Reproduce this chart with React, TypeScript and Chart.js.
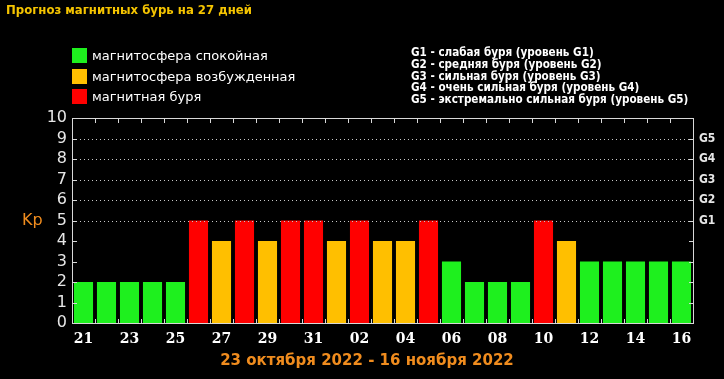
import React, { useEffect, useRef } from 'react';
import { Chart, registerables } from 'chart.js';

Chart.register(...registerables);

const days = ['21','22','23','24','25','26','27','28','29','30','31','01','02','03','04','05','06','07','08','09','10','11','12','13','14','15','16'];
const kpValues = [2,2,2,2,2,5,4,5,4,5,5,4,5,4,4,5,3,2,2,2,5,4,3,3,3,3,3];
const gLabels = ['G1','G2','G3','G4','G5'];
const legendLabels = ['магнитосфера спокойная','магнитосфера возбужденная','магнитная буря'];
const legendColors = ['#1ef01e','#ffbf00','#ff0000'];
const gDescriptions = [
  'G1 - слабая буря (уровень G1)',
  'G2 - средняя буря (уровень G2)',
  'G3 - сильная буря (уровень G3)',
  'G4 - очень сильная буря (уровень G4)',
  'G5 - экстремально сильная буря (уровень G5)',
];
const titleText = 'Прогноз магнитных бурь на 27 дней';
const dateRange = '23 октября 2022 - 16 ноября 2022';
const axisLabel = 'Kp';

const colorFor = (v: number) => (v >= 5 ? legendColors[2] : v === 4 ? legendColors[1] : legendColors[0]);

const framePlugin = {
  id: 'frame',
  afterDatasetsDraw(chart: any) {
    const { ctx, chartArea: a, scales } = chart;
    const y = scales.y;
    const x = scales.x;
    ctx.save();
    ctx.strokeStyle = '#c8c8c8';
    ctx.lineWidth = 1;
    ctx.setLineDash([1, 3]);
    for (let v = 5; v <= 9; v++) {
      const py = Math.round(y.getPixelForValue(v)) + 0.5;
      ctx.beginPath();
      ctx.moveTo(a.left, py);
      ctx.lineTo(a.right, py);
      ctx.stroke();
    }
    ctx.setLineDash([]);
    ctx.fillStyle = '#d8d8d8';
    const L = Math.round(a.left), R = Math.round(a.right), T = Math.round(a.top), B = Math.round(a.bottom);
    ctx.fillRect(L, T, R - L + 1, 1);
    ctx.fillRect(L, B, R - L + 1, 1);
    ctx.fillRect(L, T, 1, B - T + 1);
    ctx.fillRect(R, T, 1, B - T + 1);
    for (let v = 0; v <= 10; v++) {
      const py = Math.round(y.getPixelForValue(v));
      ctx.fillRect(L, py, 5, 1);
      ctx.fillRect(R - 4, py, 5, 1);
    }
    for (let i = 1; i < days.length; i++) {
      const px = Math.round((x.getPixelForValue(i - 1) + x.getPixelForValue(i)) / 2);
      ctx.fillRect(px, B - 4, 1, 5);
      ctx.fillRect(px, T, 1, 5);
    }
    ctx.restore();
  },
};

export default function App() {
  const ref = useRef<HTMLCanvasElement>(null);
  useEffect(() => {
    document.body.style.margin = '0';
    document.body.style.background = '#000';
    const chart = new Chart(ref.current!, {
      type: 'bar',
      data: {
        labels: days,
        datasets: [
          {
            data: kpValues,
            backgroundColor: kpValues.map(colorFor),
            borderWidth: 0,
            barPercentage: 0.83,
            categoryPercentage: 1,
            yAxisID: 'y',
          },
        ],
      },
      options: {
        responsive: false,
        animation: false,
        events: [],
        layout: { padding: { left: 0, right: 0, top: 118, bottom: 0 } },
        plugins: { legend: { display: false }, tooltip: { enabled: false }, title: { display: false } },
        scales: {
          x: {
            type: 'category',
            offset: true,
            grid: { display: false, drawTicks: false },
            border: { display: false },
            ticks: {
              color: '#ffffff',
              font: { family: 'DejaVu Serif', weight: 'bold', size: 14 },
              autoSkip: false,
              maxRotation: 0,
              padding: 8,
              callback: (_v: any, i: number) => (i % 2 === 0 ? days[i] : ''),
            },
            afterFit: (s: any) => { s.height = 56; },
          },
          y: {
            min: 0,
            max: 10,
            position: 'left',
            grid: { display: false, drawTicks: false },
            border: { display: false },
            ticks: {
              stepSize: 1,
              autoSkip: false,
              color: '#e6e6e6',
              font: { family: 'DejaVu Sans', size: 16, lineHeight: 1 },
              padding: 5,
            },
            afterFit: (s: any) => { s.width = 72; },
          },
          y2: {
            min: 0,
            max: 10,
            position: 'right',
            grid: { display: false, drawTicks: false },
            border: { display: false },
            ticks: {
              stepSize: 1,
              autoSkip: false,
              color: '#e6e6e6',
              font: { family: 'DejaVu Sans Condensed', weight: 'bold', size: 12, lineHeight: 1 },
              padding: 6,
              callback: (v: any) => (v >= 5 && v <= 9 ? gLabels[v - 5] : ''),
            },
            afterFit: (s: any) => { s.width = 31; },
          },
        },
      },
      plugins: [framePlugin],
    } as any);
    return () => chart.destroy();
  }, []);

  const abs = (extra: React.CSSProperties): React.CSSProperties => ({
    position: 'absolute',
    whiteSpace: 'nowrap',
    margin: 0,
    ...extra,
  });

  return (
    <div style={{ position: 'relative', width: 724, height: 379, background: '#000', overflow: 'hidden' }}>
      <canvas ref={ref} width={724} height={379} style={{ position: 'absolute', left: 0, top: 0, width: 724, height: 379 }} />
      <div style={abs({ left: 6, top: 2, color: '#f5c400', font: 'bold 13px "DejaVu Sans Condensed"', lineHeight: '16px' })}>{titleText}</div>
      {legendLabels.map((t, i) => (
        <div key={t} style={abs({ left: 72, top: 48 + i * 20.5, height: 15, display: 'flex', alignItems: 'center' })}>
          <span style={{ display: 'inline-block', width: 15, height: 15, background: legendColors[i], marginRight: 5 }} />
          <span style={{ color: '#fff', font: '13px "DejaVu Sans"', lineHeight: '15px' }}>{t}</span>
        </div>
      ))}
      {gDescriptions.map((t, i) => (
        <div key={t} style={abs({ left: 411, top: 46 + i * 11.8, color: '#fff', font: 'bold 11.6px "DejaVu Sans Condensed"', lineHeight: '13px' })}>{t}</div>
      ))}
      <div style={abs({ left: 22, top: 210, color: '#f08c1e', font: '16px "DejaVu Sans"', lineHeight: '20px' })}>{axisLabel}</div>
      <div style={abs({ left: 0, width: 734, top: 351, textAlign: 'center', color: '#f08c1e', font: 'bold 15px "DejaVu Sans"', lineHeight: '18px' })}>{dateRange}</div>
    </div>
  );
}
